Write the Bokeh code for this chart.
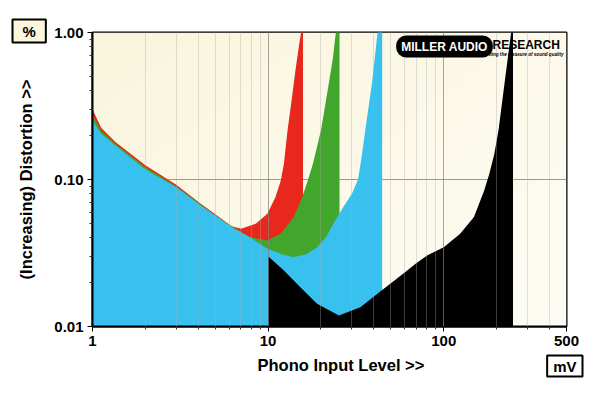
import math
import numpy as np
from bokeh.plotting import figure
from bokeh.models import FixedTicker, Label, Range1d, Title
from bokeh.embed import file_html
from bokeh.resources import INLINE

# ---- data ----
x_major = [1, 10, 100, 500]
x_minor = [2, 3, 4, 5, 6, 7, 8, 9, 20, 30, 40, 50, 60, 70, 80, 90, 200, 300, 400]
y_major = [0.01, 0.1, 1.0]
y_minor = [0.02, 0.03, 0.04, 0.05, 0.06, 0.07, 0.08, 0.09, 0.2, 0.3, 0.4, 0.5, 0.6, 0.7, 0.8, 0.9]
x_labels = ["1", "10", "100", "500"]
y_labels = ["0.01", "0.10", "1.00"]

red_x = [1, 1.12, 1.35, 2, 3, 4.1, 5, 6.2, 7.0, 8.5, 9.9, 11.0, 11.8, 12.3, 12.9, 13.6, 14.3, 15.0, 15.4, 15.8]
red_y = [0.30, 0.225, 0.180, 0.125, 0.092, 0.069, 0.058, 0.048, 0.0462, 0.050, 0.0585, 0.0757, 0.098, 0.128, 0.216, 0.345, 0.55, 0.82, 1.0, 1.6]

green_x = [1, 1.12, 1.35, 2, 3, 4.1, 5, 6.3, 7.9, 9.9, 11.8, 14.0, 15.6, 16.8, 18.0, 20.0, 21.8, 23.3, 24.3, 25.5]
green_y = [0.275, 0.215, 0.175, 0.121, 0.090, 0.068, 0.057, 0.0475, 0.0405, 0.0385, 0.0428, 0.0555, 0.075, 0.098, 0.128, 0.216, 0.40, 0.65, 1.0, 1.6]

cyan_x = [1, 1.12, 1.35, 2, 3, 4.1, 5, 6.3, 8, 9.9, 12, 13.9, 16.5, 19, 21.5, 23.5, 26.8, 30, 32.5, 34.0, 36.0, 39.0, 42, 44.6]
cyan_y = [0.25, 0.205, 0.170, 0.117, 0.0885, 0.067, 0.057, 0.047, 0.040, 0.0338, 0.031, 0.0296, 0.031, 0.0346, 0.041, 0.050, 0.065, 0.080, 0.100, 0.14, 0.23, 0.45, 1.0, 1.6]

black_x = [10, 12.3, 15.3, 19, 25.3, 33.5, 44.6, 57, 70, 80.8, 100, 124, 148.6, 170, 181.6, 194, 205, 228, 242, 248]
black_y = [0.0301, 0.024, 0.0184, 0.0143, 0.0119, 0.0135, 0.0177, 0.0222, 0.027, 0.0305, 0.0346, 0.0428, 0.0555, 0.0843, 0.109, 0.149, 0.216, 0.58, 1.0, 1.6]

series = [
    (red_x, red_y, "#E8281C"),
    (green_x, green_y, "#42A52C"),
    (cyan_x, cyan_y, "#38C1EE"),
    (black_x, black_y, "#000000"),
]

FONT = "Liberation Sans"

x_rng = Range1d(1, 500)
y_rng = Range1d(0.01, 1.0)

p = figure(
    x_axis_type="log", y_axis_type="log",
    x_range=x_rng, y_range=y_rng,
    frame_width=474, frame_height=294,
    min_border_left=92, min_border_right=34, min_border_top=32, min_border_bottom=67,
    output_backend="svg", toolbar_location=None,
    background_fill_color="#FBF8E4", border_fill_color="#FFFFFF",
)
p.outline_line_color = "black"
p.outline_line_width = 2

# cream background gradient (style only)
n = 64
u = np.linspace(0.0, 1.0, n)[None, :]
v = np.linspace(0.0, 1.0, n)[:, None]          # 0 = bottom row, 1 = top row
t = np.clip(0.55 * u + 0.45 * (1.0 - v), 0, 1)
c0 = np.array([250, 245, 220])
c1 = np.array([254, 253, 245])
img = np.zeros((n, n), dtype=np.uint32)
view = img.view(dtype=np.uint8).reshape((n, n, 4))
for k in range(3):
    view[:, :, k] = (c0[k] + (c1[k] - c0[k]) * t).astype(np.uint8)
view[:, :, 3] = 255
bg = p.image_rgba(image=[img], x=x_rng.start, y=y_rng.start,
                  dw=x_rng.end - x_rng.start, dh=y_rng.end - y_rng.start)
bg.level = "image"

# fills
for xs, ys, col in series:
    base = [y_rng.start * 0.9] * len(xs)
    p.varea(x=xs, y1=base, y2=ys, fill_color=col, fill_alpha=1.0)

# axes
p.xaxis.ticker = FixedTicker(ticks=x_major, minor_ticks=x_minor)
p.yaxis.ticker = FixedTicker(ticks=y_major, minor_ticks=y_minor)
p.xaxis.major_label_overrides = {float(v): s for v, s in zip(x_major, x_labels)}
p.yaxis.major_label_overrides = {float(v): s for v, s in zip(y_major, y_labels)}
for ax in (p.xaxis, p.yaxis):
    ax.major_label_text_font = FONT
    ax.major_label_text_font_style = "bold"
    ax.major_label_text_font_size = "15px"
    ax.major_label_text_color = "black"
    ax.axis_line_color = "black"
    ax.axis_line_width = 2
    ax.major_tick_in = 0
    ax.major_tick_out = 5
    ax.minor_tick_in = 0
    ax.minor_tick_out = 3
    ax.major_tick_line_color = "black"
    ax.minor_tick_line_color = "#333333"
    ax.major_label_standoff = 4
    ax.axis_label_text_font = FONT
    ax.axis_label_text_font_style = "bold"
    ax.axis_label_text_font_size = "16.5px"
    ax.axis_label_text_color = "black"

p.yaxis.axis_label = "(Increasing) Distortion >>"
p.yaxis.axis_label_standoff = 16

# grids
p.xgrid.ticker = FixedTicker(ticks=x_major, minor_ticks=x_minor)
p.xgrid.grid_line_color = "#808080"
p.xgrid.grid_line_alpha = 0.7
p.xgrid.minor_grid_line_color = "#A8A8A8"
p.xgrid.minor_grid_line_alpha = 0.35
p.xgrid.level = "guide"
p.ygrid.ticker = FixedTicker(ticks=[y_major[1]])
p.ygrid.grid_line_color = "#999999"

# x axis title (as a title below, so it can sit right of centre like the reference)
p.add_layout(Title(text="Phono Input Level >>", align="left", offset=165,
                   vertical_align="top", standoff=14, text_color="black",
                   text_font=FONT, text_font_style="bold", text_font_size="16.5px"),
             "below")

# unit boxes
p.add_layout(Title(text="%", align="left", offset=-80, vertical_align="bottom", standoff=-20,
                   text_color="black",
                   text_font=FONT, text_font_style="bold", text_font_size="15px",
                   background_fill_color="#FBF6DC", border_line_color="black",
                   border_line_width=2, padding=dict(left=10, right=10, top=3, bottom=3)),
             "above")
p.add_layout(Title(text="mV", align="right", offset=-16, vertical_align="top", standoff=-54,
                   text_color="black",
                   text_font=FONT, text_font_style="bold", text_font_size="15px",
                   background_fill_color="#FFFFFF", border_line_color="black",
                   border_line_width=2, padding=dict(left=6, right=6, top=2, bottom=2)),
             "below")

# logo
p.add_layout(Label(x=352, y=280, x_units="screen", y_units="screen", text="MILLER AUDIO",
                   text_align="center", text_baseline="middle",
                   text_font=FONT, text_font_style="bold", text_font_size="12px",
                   text_color="white", background_fill_color="black",
                   border_radius=10, padding=dict(left=5, right=5, top=4, bottom=4)))
p.add_layout(Label(x=400, y=282, x_units="screen", y_units="screen", text="RESEARCH",
                   text_align="left", text_baseline="middle",
                   text_font=FONT, text_font_style="bold", text_font_size="12px",
                   text_color="black"))
p.add_layout(Label(x=390, y=272, x_units="screen", y_units="screen",
                   text="Getting the measure of sound quality",
                   text_align="left", text_baseline="middle",
                   text_font=FONT, text_font_style="bold italic", text_font_size="4.6px",
                   text_color="black"))

open("out.html", "w").write(file_html(p, INLINE))
